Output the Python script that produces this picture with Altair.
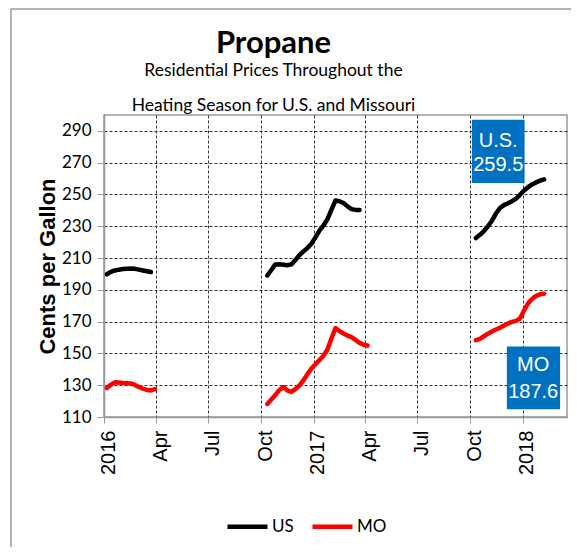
import altair as alt
import pandas as pd

# ---------------- data ----------------
series_names = ["US", "MO"]
series_colors = ["#000000", "#FF0000"]

# season 1 (winter 2016)
dates_s1 = ["2016-01-06", "2016-01-13", "2016-01-20", "2016-01-27", "2016-02-03",
            "2016-02-10", "2016-02-17", "2016-02-24", "2016-03-02", "2016-03-09",
            "2016-03-16", "2016-03-23", "2016-03-30"]
us_s1 = [199.8, 201.3, 202.2, 202.7, 203.1, 203.3, 203.4, 203.2, 202.7, 202.2,
         201.7, 201.2]
mo_s1 = [128.2, 130.3, 131.8, 131.7, 131.4, 131.3, 131.1, 130.2, 128.9, 127.8,
         127.0, 126.7, 127.5]

# season 2 (winter 2016-17)
dates_s2 = ["2016-10-12", "2016-10-19", "2016-10-26", "2016-11-02", "2016-11-09",
            "2016-11-16", "2016-11-23", "2016-11-30", "2016-12-07", "2016-12-14",
            "2016-12-21", "2016-12-28", "2017-01-04", "2017-01-11", "2017-01-18",
            "2017-01-25", "2017-02-01", "2017-02-08", "2017-02-15", "2017-02-22",
            "2017-03-01", "2017-03-08", "2017-03-15", "2017-03-22", "2017-03-29",
            "2017-04-05"]
us_s2 = [199.0, 202.5, 206.0, 206.1, 205.8, 205.5, 206.0, 208.8, 211.8, 214.2,
         216.3, 219.0, 223.0, 227.3, 230.5, 234.5, 240.5, 246.2, 245.7, 244.6,
         242.5, 240.8, 240.3, 240.3]
mo_s2 = [118.2, 121.0, 123.8, 127.0, 128.8, 126.8, 125.8, 127.5, 129.8, 133.0,
         137.0, 140.5, 143.2, 145.8, 148.5, 152.5, 159.5, 166.0, 164.0, 162.5,
         161.2, 160.2, 158.5, 156.6, 155.5, 155.0]

# season 3 (winter 2017-18)
dates_s3 = ["2017-10-11", "2017-10-18", "2017-10-25", "2017-11-01", "2017-11-08",
            "2017-11-15", "2017-11-22", "2017-11-29", "2017-12-06", "2017-12-13",
            "2017-12-20", "2017-12-27", "2018-01-03", "2018-01-10", "2018-01-17",
            "2018-01-24", "2018-01-31", "2018-02-07"]
us_s3 = [222.6, 224.6, 227.0, 230.0, 233.5, 238.0, 241.5, 243.3, 244.5, 245.8,
         247.3, 249.8, 252.5, 254.6, 256.3, 257.6, 258.7, 259.5]
mo_s3 = [158.3, 159.2, 160.8, 162.4, 163.8, 165.0, 166.2, 167.6, 168.8, 169.8,
         170.5, 172.0, 177.0, 181.5, 184.2, 186.2, 187.2, 187.6]

y_ticks = [110, 130, 150, 170, 190, 210, 230, 250, 270, 290]

title_text = "Propane"
subtitle_lines = ["Residential Prices Throughout the",
                  "Heating Season for U.S. and Missouri"]
y_title = "Cents per Gallon"

# ---------------- long table ----------------
rows = []
for season, dates, us, mo in [("s1", dates_s1, us_s1, mo_s1),
                              ("s2", dates_s2, us_s2, mo_s2),
                              ("s3", dates_s3, us_s3, mo_s3)]:
    for d, v in zip(dates, us):
        rows.append({"date": d, "price": v, "series": "US", "season": season})
    for d, v in zip(dates, mo):
        rows.append({"date": d, "price": v, "series": "MO", "season": season})
df = pd.DataFrame(rows)

# annotation boxes (latest values)
boxes = pd.DataFrame({
    "x1": ["2017-10-04", "2017-12-04"],
    "x2": ["2018-01-04", "2018-03-07"],
    "y1": [257.2, 114.9],
    "y2": [297.0, 154.4],
})
box_text = pd.DataFrame({
    "x": ["2017-11-19", "2017-11-19", "2018-01-19", "2018-01-19"],
    "y": [283.9, 268.5, 142.8, 126.0],
    "label": ["U.S.", f"{us_s3[-1]:.1f}", "MO", f"{mo_s3[-1]:.1f}"],
})

CAL = "Lato, Carlito, Calibri, sans-serif"
ARIAL = "Liberation Sans, Arial, sans-serif"
GRID = "#333333"
FRAME = "#999999"

def dt(y, m, d):
    return alt.DateTime(year=y, month=m, date=d, utc=True)

quarter_ticks = [dt(y, m, 1) for y, m in
                 [(2016, 1), (2016, 4), (2016, 7), (2016, 10), (2017, 1), (2017, 4),
                  (2017, 7), (2017, 10), (2018, 1)]]

x_scale = alt.Scale(type="utc", domain=[dt(2016, 1, 1), dt(2018, 3, 19)])
y_scale = alt.Scale(domain=[110, 300], nice=False, zero=False)

x_axis = alt.Axis(
    values=quarter_ticks,
    labelExpr="utcFormat(datum.value, '%m') == '01' ? utcFormat(datum.value, '%Y') : utcFormat(datum.value, '%b')",
    labelAngle=270, labelAlign="right", labelBaseline="middle", labelOffset=4,
    labelFont=ARIAL, labelFontSize=20, labelColor="#000000", labelPadding=7,
    tickSize=6, tickColor=FRAME, domainColor=FRAME, domainWidth=1.5,
    grid=True, gridColor=GRID, gridDash=[3, 2], gridWidth=1,
    title=None, labelOverlap=False,
)
y_axis = alt.Axis(
    values=y_ticks, title=y_title,
    titleFont=ARIAL, titleFontWeight="bold", titleFontSize=22, titleColor="#000000",
    titlePadding=2,
    labelFont=CAL, labelFontSize=17, labelColor="#000000", labelPadding=6,
    labelOverlap=False,
    tickSize=7, tickColor=FRAME, domainColor=FRAME, domainWidth=1.5,
    grid=True, gridColor=GRID, gridDash=[3, 2], gridWidth=1,
)

lines = alt.Chart(df).mark_line(strokeWidth=4.5, strokeCap="round", strokeJoin="round").encode(
    x=alt.X("date:T", scale=x_scale, axis=x_axis),
    y=alt.Y("price:Q", scale=y_scale, axis=y_axis),
    color=alt.Color("series:N",
                    scale=alt.Scale(domain=series_names, range=series_colors),
                    legend=alt.Legend(title=None, orient="none", direction="horizontal",
                                      legendX=121, legendY=389,
                                      symbolType="stroke", symbolStrokeWidth=4.5,
                                      symbolSize=1600, labelFont=CAL, labelFontSize=17,
                                      labelColor="#000000", labelOffset=2,
                                      columnPadding=9)),
    detail="season:N",
    order="date:T",
)

rects = alt.Chart(boxes).mark_rect(color="#0070C0").encode(
    x=alt.X("x1:T", scale=x_scale, axis=x_axis), x2="x2:T",
    y=alt.Y("y1:Q", scale=y_scale, axis=y_axis), y2="y2:Q")

texts = alt.Chart(box_text).mark_text(color="#FFFFFF", font=ARIAL, fontSize=20,
                                      baseline="middle", align="center").encode(
    x=alt.X("x:T", scale=x_scale, axis=x_axis),
    y=alt.Y("y:Q", scale=y_scale, axis=y_axis),
    text="label:N")

frame_df = pd.DataFrame({"k": [0]})
frame_top = alt.Chart(frame_df).mark_rule(color=FRAME, strokeWidth=1.5).encode(
    x=alt.value(-93), x2=alt.value(480), y=alt.value(-106), y2=alt.value(-106))
frame_left = alt.Chart(frame_df).mark_rule(color=FRAME, strokeWidth=1.5).encode(
    x=alt.value(-93), x2=alt.value(-93), y=alt.value(-106), y2=alt.value(450))

chart = alt.layer(frame_top, frame_left, lines, rects, texts).properties(
    width=463, height=302,
    padding={"left": 96, "top": 107, "right": 4, "bottom": 130},
    autosize=alt.AutoSizeParams(type="none"),
    title=alt.TitleParams(text=title_text, subtitle=subtitle_lines,
                          font=CAL, fontSize=31, fontWeight="bold", color="#000000",
                          subtitleFont=CAL, subtitleFontSize=17.5, subtitleColor="#000000",
                          subtitleLineHeight=35, subtitlePadding=2,
                          anchor="middle", dx=-62, offset=-107, frame="group"),
).configure_view(stroke=FRAME, strokeWidth=1.5)

chart.save("out.html", embed_options={"renderer": "svg", "actions": False})
